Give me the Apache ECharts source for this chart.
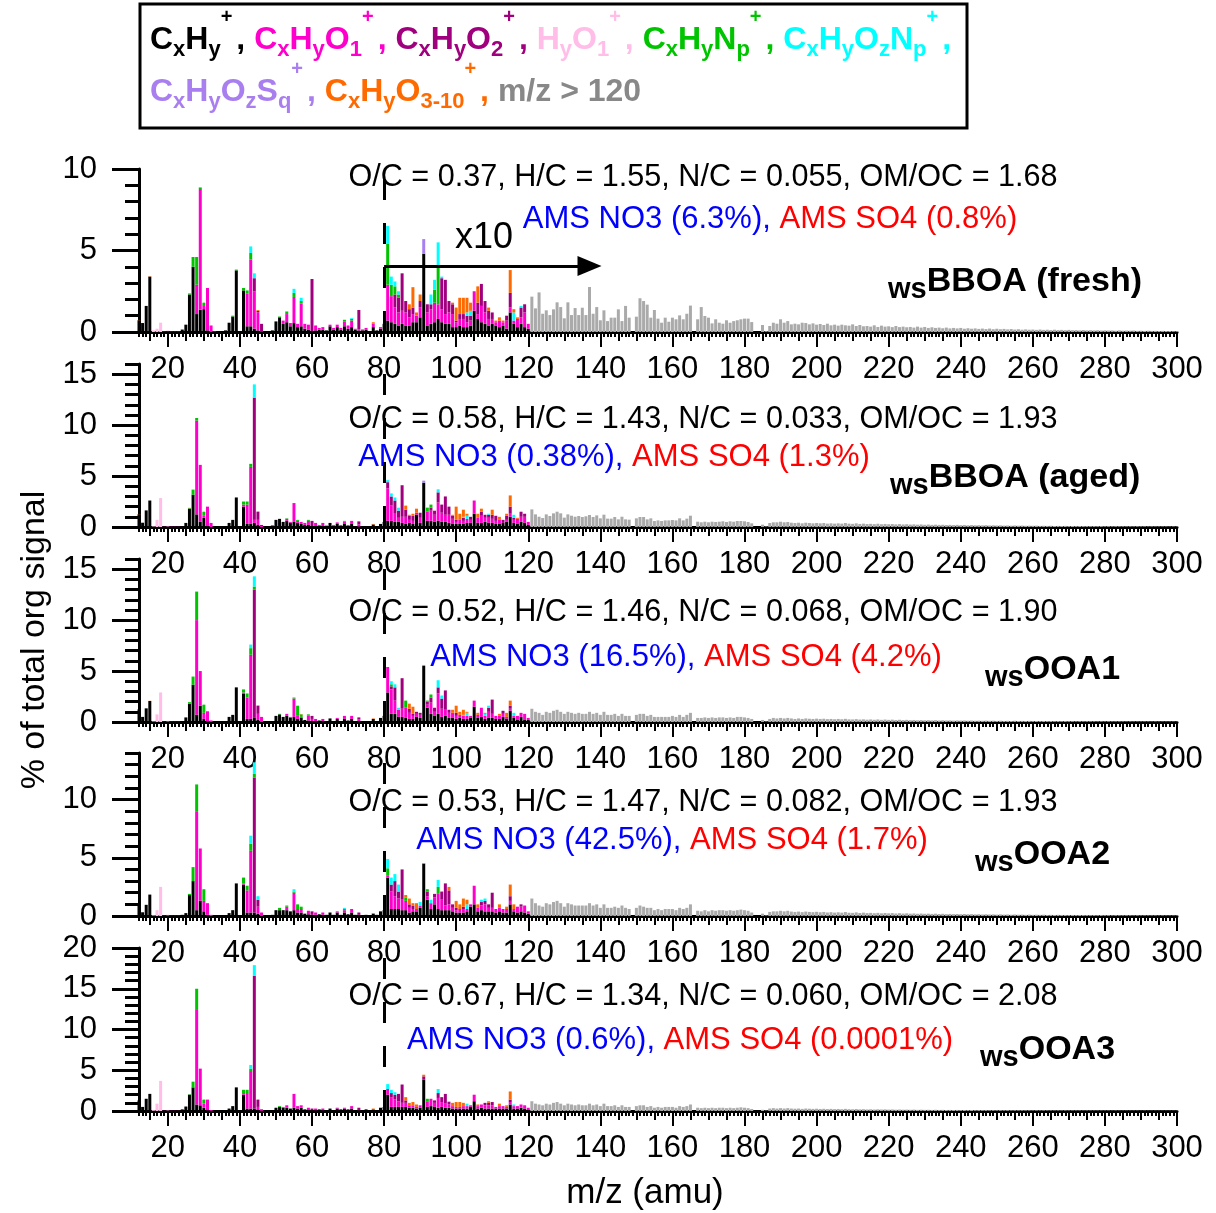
<!DOCTYPE html>
<html>
<head>
<meta charset="utf-8">
<script src="https://cdn.jsdelivr.net/npm/echarts@6/dist/echarts.min.js"></script>
<style>
  html, body { margin: 0; padding: 0; background: #ffffff; }
  #chart { width: 1216px; height: 1213px; }
</style>
</head>
<body>
<div id="chart"></div>
<script>
// ---------------------------------------------------------------------------
// Water-soluble OA factor mass spectra (HR family-coloured), m/z 12-300.
// Values are % of total organic signal. Signal at m/z >= 80 is plotted x10.
// Each family array holds [m/z, value] pairs; m/z not listed are zero.
// ---------------------------------------------------------------------------
const MZ_MIN = 12, MZ_MAX = 300;
const TAIL_START = 121;          // unit-resolution signal above m/z 120
const ZOOM_FROM = 80, ZOOM_FACTOR = 10;

const familyNames = ['CxHy+', 'CxHyO1+', 'CxHyO2+', 'HyO1+', 'CxHyNp+', 'CxHyOzNp+', 'CxHyOzSq+', 'CxHyO3-10+', 'm/z > 120'];
const familyColors = ['#000000', '#ff00cc', '#a0007e', '#ffbde8', '#00c400', '#00ffff', '#a97ff0', '#ff6a00', '#aaaaaa'];

const factorNames = ['BBOA (fresh)', 'BBOA (aged)', 'OOA1', 'OOA2', 'OOA3'];
const ratioOC   = ['0.37', '0.58', '0.52', '0.53', '0.67'];
const ratioHC   = ['1.55', '1.43', '1.46', '1.47', '1.34'];
const ratioNC   = ['0.055', '0.033', '0.068', '0.082', '0.060'];
const ratioOMOC = ['1.68', '1.93', '1.90', '1.93', '2.08'];
const amsNO3    = ['6.3%', '0.38%', '16.5%', '42.5%', '0.6%'];
const amsSO4    = ['0.8%', '1.3%', '4.2%', '1.7%', '0.0001%'];
const yMax      = [10, 16, 16, 14, 20];

// ---------------- wsBBOA (fresh) ----------------
const p1CxHy = [[12,.72],[13,.55],[14,1.6],[15,3.4],[19,.03],[20,.03],[21,.03],[22,.03],[23,.03],[24,.15],[25,.45],[26,2.3],[27,4.0],[28,1.1],[29,1.37],[30,1.4],[31,.1],[36,.1],[37,.57],[38,.95],[39,3.78],[40,.05],[41,2.55],[42,.35],[43,.35],[44,.2],[45,.1],[49,.1],[50,.65],[51,.9],[52,.5],[53,.6],[54,.35],[55,.55],[56,.3],[57,.35],[58,.2],[59,.15],[60,.05],[61,.1],[62,.15],[63,.15],[64,.1],[65,.35],[66,.15],[67,.3],[68,.15],[69,.35],[70,.2],[71,.3],[72,.15],[73,.1],[74,.1],[75,.15],[76,.05],[77,.3],[78,.1],[79,.2],
  [80,.05],[81,.07],[82,.06],[83,.05],[84,.04],[85,.05],[86,.04],[87,.04],[88,.06],[89,.06],[90,.09],[91,.48],[92,.04],[93,.05],[94,.06],[95,.08],[96,.06],[97,.05],[98,.05],[99,.03],[100,.03],[101,.04],[102,.03],[103,.03],[104,.04],[105,.13],[106,.08],[107,.06],[108,.05],[109,.04],[110,.05],[111,.04],[112,.03],[113,.04],[114,.02],[115,.12],[116,.05],[117,.03],[118,.05],[119,.03],[120,.02]];
const p1CxHyO1 = [[28,1.8],[29,7.4],[30,.25],[31,2.6],[32,.4],[33,.03],[42,2.0],[43,4.1],[44,2.3],[45,1.1],[52,.2],[53,.5],[54,.2],[55,1.6],[56,.2],[57,1.4],[58,.3],[59,.3],[61,.3],[62,.1],[63,.15],[65,.1],[66,.1],[67,.15],[68,.1],[69,.3],[70,.2],[71,.4],[72,.05],[73,.05],[75,.1],[77,.2],[79,.1],
  [81,.22],[82,.16],[83,.10],[84,.08],[85,.08],[86,.08],[87,.05],[88,.05],[89,.04],[90,.06],[92,.08],[93,.09],[94,.12],[95,.09],[96,.08],[97,.06],[98,.07],[99,.08],[100,.03],[101,.04],[102,.05],[103,.03],[104,.03],[105,.12],[106,.03],[107,.10],[108,.07],[109,.04],[110,.03],[111,.02],[112,.04],[113,.02],[114,.05],[115,.03],[116,.02],[117,.05],[118,.04],[119,.09],[120,.03]];
const p1CxHyO2 = [[19,.03],[20,.03],[21,.03],[22,.03],[23,.03],[44,.8],[45,.1],[46,.5],[60,3.2],[73,1.2],[74,.05],
  [83,.08],[84,.09],[85,.23],[86,.07],[87,.05],[88,.04],[90,.04],[92,.05],[93,.03],[96,.19],[97,.21],[98,.07],[99,.06],[100,.01],[101,.03],[102,.03],[103,.04],[104,.03],[106,.07],[107,.135],[108,.07],[109,.05],[110,.04],[114,.03],[115,.09],[118,.06],[119,.05]];
const p1HyO1 = [[16,.1],[17,.2],[18,.57],[20,.03]];
const p1CxHyNp = [[26,.05],[27,.6],[28,1.7],[29,.1],[30,.15],[38,.05],[39,.05],[41,.15],[42,.2],[43,.4],[51,.05],[53,.15],[55,.25],[57,.15],[69,.1],[71,.1],
  [81,.25],[82,.07],[83,.05],[84,.02],[94,.08],[95,.24]];
const p1CxHyOzNp = [[43,.4],[44,.3],[55,.25],[57,.2],[71,.05],
  [81,.11],[82,.05],[83,.03],[84,.02],[93,.06],[94,.06],[95,.14],[96,.01],[103,.02],[104,.03],[116,.05],[118,.01]];
const p1CxHyOzSq = [[91,.09]];
const p1CxHyO3 = [[12,.02],[15,.02],[26,.03],[45,.05],[53,.02],[77,.1],
  [87,.03],[88,.125],[89,.02],[90,.04],[99,.01],[100,.08],[101,.10],[102,.10],[103,.09],[104,.05],[106,.10],[109,.02],[111,.01],[112,.02],[113,.01],[115,.14],[116,.02],[117,.01]];
const p1Tail = [
  .217,.145,.243,.112,.133,.104,.139,.182,.153,.084, .182,.104,.147,.104,.149,.104,.276,.112,.153,.072,
  .133,.067,.088,.088,.139,.067,.160,.088,0,.094, .207,.190,.168,.088,.135,.082,.057,.088,.063,.088,
  .078,.102,.078,.112,.162,0,.078,.153,.098,.088, .053,.078,.057,.051,.072,.057,.067,.072,.078,.082,
  .082,.061,0,0,.043,.005,.037,.057,.051,.078, .057,.067,.047,.051,.047,.057,.055,.047,.053,.045,
  .049,.043,.051,.041,.045,.039,.045,.041,.039,.047, .037,.043,.035,.037,.033,.041,.031,.039,.033,.035,
  .030,.037,.030,.033,.029,.031,.027,.033,.027,.031, .025,.029,.025,.027,.023,.027,.022,.025,.022,.025,
  .020,.023,.020,.022,.019,.021,.018,.021,.017,.020, .017,.019,.016,.018,.015,.017,.014,.016,.014,.015,
  .013,.015,.013,.014,.012,.014,.012,.013,.011,.013, .011,.012,.010,.012,.010,.011,.010,.011,.009,.010,
  .009,.010,.008,.010,.008,.009,.008,.009,.007,.008, .007,.008,.007,.007,.006,.007,.006,.006,.005,.005];

// ---------------- wsBBOA (aged) ----------------
const p2CxHy = [[12,1.24],[13,.42],[14,1.63],[15,2.6],[19,.03],[20,.03],[21,.03],[22,.03],[23,.03],[24,.1],[25,.4],[26,1.8],[27,3.17],[28,1.24],[29,.5],[30,.9],[31,.1],[36,.05],[37,.4],[38,.7],[39,2.9],[40,.05],[41,2.0],[42,.3],[43,.3],[44,.4],[45,.2],[48,.1],[49,.15],[50,.7],[51,.8],[52,.5],[53,.6],[54,.4],[55,.5],[56,.4],[57,.3],[58,.2],[59,.2],[60,.1],[61,.1],[62,.15],[63,.1],[64,.1],[65,.4],[66,.15],[67,.3],[68,.15],[69,.35],[70,.15],[71,.3],[72,.1],[73,.05],[74,.1],[75,.1],[76,.05],[77,.25],[78,.1],[79,.3],
  [80,.05],[81,.06],[82,.06],[83,.05],[84,.05],[85,.04],[86,.03],[87,.04],[88,.03],[89,.12],[90,.04],[91,.435],[92,.06],[93,.06],[94,.05],[95,.06],[96,.05],[97,.05],[98,.04],[99,.03],[100,.03],[101,.03],[102,.03],[103,.04],[104,.04],[105,.13],[106,.04],[107,.04],[108,.05],[109,.04],[110,.04],[111,.03],[112,.03],[113,.04],[114,.05],[115,.10],[116,.04],[117,.03],[118,.05],[119,.04],[120,.02]];
const p2CxHyO1 = [[28,9.2],[29,5.6],[30,.2],[31,1.9],[32,.4],[41,.2],[42,1.9],[43,5.6],[44,.3],[45,.5],[46,.1],[53,.2],[54,.1],[55,1.85],[56,.2],[57,.2],[58,.2],[59,.4],[61,.3],[62,.05],[63,.3],[64,.05],[66,.05],[67,.15],[68,.05],[69,.2],[70,.05],[71,.3],[73,.2],
  [81,.32],[82,.15],[83,.08],[84,.04],[85,.06],[86,.07],[87,.03],[88,.03],[89,.02],[90,.05],[92,.09],[93,.10],[94,.07],[95,.18],[96,.09],[97,.07],[98,.08],[99,.05],[100,.02],[101,.04],[102,.03],[103,.04],[104,.03],[105,.13],[106,.05],[107,.07],[108,.04],[109,.05],[110,.04],[111,.03],[112,.04],[114,.02],[115,.03],[116,.03],[117,.05],[118,.05],[119,.06],[120,.03]];
const p2CxHyO2 = [[19,.03],[20,.03],[21,.03],[22,.03],[23,.03],[44,12.0],[45,.8],[46,.1],[60,.5],[73,.3],
  [81,.06],[82,.09],[83,.13],[84,.07],[85,.31],[86,.07],[87,.04],[88,.05],[90,.05],[93,.03],[94,.04],[95,.10],[96,.08],[97,.18],[98,.08],[99,.03],[100,.02],[102,.03],[104,.03],[107,.04],[108,.03],[109,.03],[110,.04],[111,.05],[113,.03],[114,.04],[115,.07],[116,.02],[118,.05],[119,.03]];
const p2HyO1 = [[16,.05],[17,.7],[18,2.84],[20,.05]];
const p2CxHyNp = [[26,.05],[27,.5],[28,.26],[30,.4],[41,.3],[42,.3],[43,.3],[53,.05],[56,.1],[59,.1],[69,.05],
  [92,.04],[93,.03]];
const p2CxHyOzNp = [[44,1.3],
  [81,.02],[82,.03],[83,.03],[84,.03],[95,.03],[102,.01],[103,.03],[109,.01],[116,.03]];
const p2CxHyOzSq = [[91,.02]];
const p2CxHyO3 = [[12,.02],[26,.03],[45,.03],[77,.05],
  [86,.04],[87,.01],[88,.02],[89,.04],[99,.01],[100,.13],[101,.06],[102,.07],[103,.02],[106,.04],[107,.03],[110,.05],[112,.03],[114,.02],[115,.11],[117,.01]];
const p2Tail = [
  .173,.124,.101,.088,.124,.108,.134,.150,.134,.092, .124,.111,.101,.108,.098,.105,.118,.098,.114,.085,
  .121,.082,.082,.098,.075,.101,.075,.072,0,.085, .098,.098,.075,.085,.059,.065,.059,.065,.065,.069,
  .065,.085,.065,.082,.111,0,.052,.046,.052,.046, .052,.049,.052,.056,.049,.056,.052,.059,.059,.056,
  .049,.036,0,0,.023,.005,.039,.046,.046,.052, .046,.049,.042,.039,.042,.036,.042,.039,.036,.039,
  .036,.039,.033,.036,.033,.036,.033,.039,.033,.031, .036,.030,.033,.029,.031,.028,.032,.027,.030,.027,
  .029,.026,.028,.025,.027,.024,.026,.023,.025,.022, .024,.021,.023,.021,.022,.020,.021,.019,.021,.018,
  .020,.017,.019,.017,.018,.016,.018,.015,.017,.015, .016,.014,.015,.013,.015,.013,.014,.012,.013,.012,
  .013,.011,.012,.011,.012,.010,.011,.010,.011,.009, .010,.009,.010,.009,.009,.008,.009,.008,.009,.007,
  .008,.007,.008,.007,.007,.006,.007,.006,.007,.006, .006,.005,.006,.005,.005,.005,.005,.004,.005,.004];

// ---------------- wsOOA1 ----------------
const p3CxHy = [[12,1.24],[13,.5],[14,1.34],[15,2.06],[19,.03],[20,.03],[21,.03],[22,.03],[23,.03],[24,.1],[25,.45],[26,1.8],[27,3.66],[28,.7],[29,1.6],[30,.3],[31,.05],[36,.05],[37,.5],[38,.7],[39,3.4],[40,.05],[41,2.8],[42,.3],[43,.3],[44,.4],[45,.2],[48,.05],[49,.1],[50,.6],[51,.75],[52,.5],[53,.6],[54,.4],[55,.5],[56,.3],[57,.4],[58,.2],[59,.15],[60,.1],[61,.1],[62,.15],[63,.1],[64,.1],[65,.35],[66,.1],[67,.3],[68,.1],[69,.3],[70,.15],[71,.3],[72,.1],[73,.1],[74,.05],[75,.1],[77,.3],[78,.1],[79,.4],
  [80,.06],[81,.29],[82,.08],[83,.08],[84,.05],[85,.05],[86,.04],[87,.03],[88,.03],[89,.05],[90,.04],[91,.55],[92,.14],[93,.08],[94,.06],[95,.08],[96,.05],[97,.06],[98,.04],[99,.04],[100,.03],[101,.04],[102,.03],[103,.03],[104,.04],[105,.15],[106,.04],[107,.05],[108,.03],[109,.04],[110,.04],[111,.03],[112,.03],[113,.05],[114,.03],[115,.11],[116,.04],[117,.02],[118,.05],[119,.02],[120,.02]];
const p3CxHyO1 = [[28,9.3],[29,3.4],[30,.6],[31,1.0],[32,.15],[41,.1],[42,2.1],[43,6.3],[45,.6],[46,.5],[53,.2],[54,.1],[55,1.8],[56,.3],[57,.1],[59,.5],[60,.2],[61,.2],[63,.2],[67,.1],[69,.3],[71,.3],[73,.15],
  [81,.25],[82,.24],[83,.13],[84,.07],[85,.08],[86,.10],[87,.06],[88,.03],[89,.03],[90,.03],[92,.03],[93,.11],[94,.04],[95,.20],[96,.08],[97,.06],[98,.05],[99,.05],[100,.03],[101,.03],[102,.03],[103,.03],[104,.02],[105,.06],[106,.03],[107,.09],[108,.03],[109,.06],[110,.04],[111,.03],[112,.03],[113,.03],[114,.02],[115,.02],[116,.02],[117,.04],[118,.04],[119,.06],[120,.02]];
const p3CxHyO2 = [[19,.03],[20,.03],[21,.03],[22,.03],[23,.03],[44,12.6],[45,.8],[60,.3],[73,.2],
  [82,.03],[83,.13],[85,.30],[87,.04],[88,.02],[89,.02],[90,.02],[92,.03],[93,.05],[94,.04],[95,.06],[96,.10],[97,.19],[98,.03],[100,.03],[109,.04],[110,.14],[113,.03],[115,.03]];
const p3HyO1 = [[16,.05],[17,.75],[18,2.9],[20,.05]];
const p3CxHyNp = [[26,.15],[27,.8],[28,2.8],[30,.8],[41,.3],[42,.4],[43,.65],[44,.3],[51,.05],[55,.1],[56,1.0],[57,.25],[59,.1],
  [82,.02],[86,.07],[92,.01],[93,.03]];
const p3CxHyOzNp = [[43,.35],[44,1.0],
  [82,.03],[83,.03],[84,.02],[95,.07],[96,.03],[102,.01],[103,.03],[108,.02],[109,.02],[116,.03]];
const p3CxHyOzSq = [[91,.01]];
const p3CxHyO3 = [[15,.02],[45,.03],[57,.03],[77,.05],
  [87,.05],[88,.07],[99,.03],[100,.07],[101,.03],[102,.05],[103,.01],[106,.02],[108,.01],[112,.02],[114,.04],[115,.05]];
const p3Tail = [
  .13,.10,.09,.07,.10,.09,.11,.12,.10,.08, .10,.09,.08,.09,.08,.08,.10,.08,.09,.07,
  .10,.07,.07,.08,.06,.08,.06,.06,0,.07, .08,.08,.06,.07,.05,.05,.05,.05,.05,.06,
  .05,.07,.05,.07,.09,0,.04,.04,.045,.04, .045,.04,.045,.045,.04,.045,.04,.05,.05,.045,
  .04,.03,0,0,.02,.005,.03,.04,.035,.04, .035,.04,.035,.03,.035,.03,.035,.032,.03,.033,
  .03,.032,.028,.03,.027,.03,.027,.031,.026,.025, .028,.024,.026,.023,.025,.022,.025,.021,.024,.021,
  .023,.02,.022,.019,.021,.018,.02,.017,.019,.017, .018,.016,.018,.015,.017,.015,.016,.014,.016,.014,
  .015,.013,.015,.013,.014,.012,.014,.012,.013,.011, .013,.011,.012,.01,.012,.01,.011,.01,.011,.009,
  .01,.009,.01,.009,.01,.008,.009,.008,.009,.008, .008,.007,.008,.007,.008,.007,.007,.006,.007,.006,
  .007,.006,.006,.006,.006,.005,.006,.005,.005,.005, .005,.005,.004,.005,.004,.004,.004,.004,.004,.003];

// ---------------- wsOOA2 ----------------
const p4CxHy = [[12,1.0],[13,.32],[14,.96],[15,1.84],[19,.03],[20,.03],[21,.03],[22,.03],[23,.03],[24,.1],[25,.25],[26,1.8],[27,3.0],[28,.5],[29,1.3],[30,.4],[31,.1],[36,.05],[37,.25],[38,.5],[39,2.8],[40,.03],[41,2.7],[42,.3],[43,.3],[44,.3],[45,.2],[48,.05],[49,.1],[50,.5],[51,.5],[52,.5],[53,.5],[54,.4],[55,.5],[56,.3],[57,.3],[58,.2],[59,.15],[60,.1],[61,.1],[62,.15],[63,.1],[64,.1],[65,.3],[66,.1],[67,.3],[68,.1],[69,.3],[70,.15],[71,.3],[72,.1],[73,.1],[74,.05],[75,.1],[77,.2],[78,.1],[79,.4],
  [80,.05],[81,.33],[82,.06],[83,.06],[84,.06],[85,.05],[86,.05],[87,.03],[88,.04],[89,.04],[90,.07],[91,.45],[92,.14],[93,.06],[94,.10],[95,.06],[96,.05],[97,.05],[98,.05],[99,.04],[100,.03],[101,.03],[102,.03],[103,.04],[104,.08],[105,.10],[106,.04],[107,.05],[108,.04],[109,.04],[110,.04],[111,.03],[112,.04],[113,.03],[114,.03],[115,.10],[116,.04],[117,.03],[118,.04],[119,.03],[120,.02]];
const p4CxHyO1 = [[28,8.5],[29,4.5],[30,.9],[31,1.0],[32,.1],[41,.1],[42,1.9],[43,5.3],[45,.6],[46,.3],[53,.3],[55,1.5],[56,.3],[57,.3],[59,.3],[61,.2],[63,.2],[67,.1],[69,.2],[71,.3],
  [81,.02],[82,.15],[83,.11],[84,.09],[85,.09],[86,.08],[87,.04],[88,.02],[89,.02],[90,.02],[92,.03],[93,.05],[94,.06],[95,.13],[96,.09],[97,.04],[98,.05],[99,.03],[100,.02],[101,.03],[102,.03],[103,.02],[104,.02],[105,.16],[106,.03],[107,.04],[108,.06],[109,.03],[110,.03],[111,.03],[112,.03],[113,.03],[114,.03],[115,.03],[116,.02],[117,.05],[118,.04],[119,.06],[120,.02]];
const p4CxHyO2 = [[19,.03],[20,.03],[21,.03],[22,.03],[23,.03],[44,11.6],[45,.6],[60,.3],[73,.2],
  [82,.06],[83,.13],[84,.06],[85,.26],[87,.03],[88,.03],[92,.04],[94,.03],[96,.07],[97,.19],[98,.12],[99,.03],[100,.02],[102,.02],[107,.03],[108,.03],[109,.03],[110,.13],[115,.04],[118,.02]];
const p4HyO1 = [[16,.05],[17,.5],[18,2.5],[20,.05]];
const p4CxHyNp = [[26,.1],[27,1.2],[28,2.3],[30,1.0],[41,.5],[42,.4],[43,.6],[44,.3],[51,.2],[53,.1],[55,.1],[56,.4],[57,.2],[69,.1],
  [81,.06],[86,.03],[92,.02],[95,.06]];
const p4CxHyOzNp = [[43,.7],[44,1.0],[45,.3],[55,.2],[69,.1],
  [81,.08],[82,.06],[83,.06],[84,.06],[90,.03],[93,.03],[95,.06],[103,.04],[107,.02],[108,.02]];
const p4CxHyOzSq = [[91,.005]];
const p4CxHyO3 = [[77,.05],
  [86,.02],[87,.05],[88,.02],[89,.05],[98,.03],[100,.06],[101,.04],[102,.07],[103,.04],[106,.03],[112,.03],[114,.02],[115,.10],[116,.04]];
const p4Tail = [
  .15,.11,.09,.08,.11,.10,.12,.13,.11,.08, .11,.10,.09,.09,.09,.09,.11,.09,.10,.07,
  .10,.07,.07,.08,.07,.09,.07,.06,0,.07, .09,.08,.07,.07,.05,.06,.05,.06,.06,.06,
  .05,.07,.06,.07,.10,0,.045,.04,.05,.04, .05,.045,.05,.05,.045,.05,.045,.05,.055,.05,
  .045,.03,0,0,.02,.005,.035,.04,.04,.045, .04,.045,.038,.035,.038,.033,.038,.035,.033,.036,
  .032,.035,.03,.033,.029,.032,.029,.034,.028,.027, .031,.026,.029,.025,.027,.024,.027,.023,.026,.023,
  .025,.022,.024,.021,.023,.02,.022,.019,.021,.019, .02,.018,.02,.017,.019,.016,.018,.016,.017,.015,
  .017,.015,.016,.014,.015,.013,.015,.013,.014,.012, .014,.012,.013,.011,.013,.011,.012,.01,.012,.01,
  .011,.01,.011,.009,.01,.009,.01,.009,.009,.008, .009,.008,.009,.008,.008,.007,.008,.007,.008,.007,
  .007,.006,.007,.006,.006,.006,.006,.005,.006,.005, .005,.005,.005,.005,.004,.005,.004,.004,.004,.004];

// ---------------- wsOOA3 ----------------
const p5CxHy = [[12,1.3],[13,.5],[14,1.5],[15,2.1],[19,.05],[20,.05],[21,.05],[22,.05],[23,.05],[24,.2],[25,.55],[26,2.0],[27,2.9],[28,.8],[29,.7],[30,.4],[31,.1],[36,.05],[37,.3],[38,.6],[39,2.9],[40,.05],[41,2.0],[42,.3],[43,.3],[44,.3],[45,.2],[47,.1],[48,.1],[49,.1],[50,.4],[51,.5],[52,.4],[53,.4],[54,.3],[55,.4],[56,.3],[57,.4],[58,.2],[59,.2],[60,.1],[61,.1],[62,.2],[63,.1],[64,.1],[65,.3],[66,.1],[67,.3],[68,.2],[69,.3],[70,.2],[71,.3],[72,.1],[73,.1],[74,.1],[75,.2],[76,.1],[77,.2],[78,.1],[79,.4],
  [80,.05],[81,.20],[82,.05],[83,.05],[84,.05],[85,.05],[86,.05],[87,.04],[88,.04],[89,.03],[90,.04],[91,.385],[92,.05],[93,.06],[94,.05],[95,.04],[96,.05],[97,.04],[98,.04],[99,.03],[100,.03],[101,.03],[102,.03],[103,.03],[104,.05],[105,.12],[106,.03],[107,.04],[108,.03],[109,.03],[110,.03],[111,.03],[112,.03],[113,.03],[114,.03],[115,.08],[116,.03],[117,.03],[118,.04],[119,.03],[120,.02]];
const p5CxHyO1 = [[28,11.7],[29,4.5],[30,.5],[31,1.3],[32,.1],[41,.2],[42,1.9],[43,4.6],[45,.3],[46,.1],[52,.1],[53,.3],[55,1.7],[56,.3],[57,.3],[59,.2],[61,.2],[63,.2],[67,.1],[69,.1],[71,.3],
  [81,.07],[82,.12],[83,.09],[84,.07],[85,.05],[86,.05],[87,.03],[88,.03],[89,.02],[90,.03],[92,.07],[93,.09],[94,.05],[95,.12],[96,.06],[97,.05],[98,.04],[99,.03],[100,.02],[101,.02],[102,.03],[103,.03],[104,.02],[105,.08],[106,.03],[107,.04],[108,.04],[109,.04],[110,.04],[111,.02],[112,.03],[113,.03],[114,.02],[115,.03],[116,.03],[117,.03],[118,.04],[119,.04],[120,.02]];
const p5CxHyO2 = [[19,.03],[20,.03],[21,.03],[22,.03],[23,.03],[44,16.3],[45,.9],[46,.1],[60,.2],[73,.3],
  [82,.05],[83,.06],[84,.09],[85,.225],[86,.03],[91,.04],[94,.03],[95,.06],[96,.06],[97,.12],[98,.03],[108,.03],[109,.03],[110,.04],[115,.03]];
const p5HyO1 = [[16,.1],[17,.9],[18,3.7],[20,.05]];
const p5CxHyNp = [[26,.05],[27,.7],[28,2.5],[30,.5],[41,.4],[42,.4],[43,.3],[51,.1],
  [92,.03]];
const p5CxHyOzNp = [[43,.45],[44,1.3],
  [81,.06],[82,.04],[83,.03],[95,.05],[98,.01],[103,.03],[116,.02]];
const p5CxHyOzSq = [];
const p5CxHyO3 = [[77,.1],
  [86,.04],[87,.03],[88,.04],[89,.03],[91,.02],[99,.04],[100,.06],[101,.06],[102,.04],[106,.02],[109,.02],[112,.03],[114,.02],[115,.10]];
const p5Tail = [
  .12,.09,.08,.07,.09,.08,.10,.11,.09,.07, .09,.08,.07,.08,.07,.07,.09,.07,.08,.06,
  .09,.06,.06,.07,.05,.07,.05,.05,0,.06, .07,.07,.05,.06,.04,.05,.04,.05,.05,.05,
  .04,.06,.05,.06,.08,0,.04,.035,.04,.035, .04,.035,.04,.04,.035,.04,.035,.04,.045,.04,
  .035,.025,0,0,.015,.005,.03,.035,.03,.035, .03,.035,.03,.028,.03,.026,.03,.028,.026,.028,
  .025,.027,.024,.026,.023,.025,.022,.026,.022,.021, .024,.02,.022,.019,.021,.018,.021,.018,.02,.017,
  .019,.016,.018,.016,.017,.015,.017,.014,.016,.014, .015,.013,.015,.013,.014,.012,.013,.012,.013,.011,
  .012,.011,.012,.01,.011,.01,.011,.009,.01,.009, .01,.009,.01,.008,.009,.008,.009,.008,.008,.007,
  .008,.007,.008,.007,.007,.006,.007,.006,.007,.006, .006,.006,.006,.005,.006,.005,.005,.005,.005,.005,
  .005,.004,.005,.004,.004,.004,.004,.004,.004,.003, .004,.003,.003,.003,.003,.003,.003,.003,.003,.003];

const panels = [
  { fam: [p1CxHy, p1CxHyO1, p1CxHyO2, p1HyO1, p1CxHyNp, p1CxHyOzNp, p1CxHyOzSq, p1CxHyO3], tail: p1Tail },
  { fam: [p2CxHy, p2CxHyO1, p2CxHyO2, p2HyO1, p2CxHyNp, p2CxHyOzNp, p2CxHyOzSq, p2CxHyO3], tail: p2Tail },
  { fam: [p3CxHy, p3CxHyO1, p3CxHyO2, p3HyO1, p3CxHyNp, p3CxHyOzNp, p3CxHyOzSq, p3CxHyO3], tail: p3Tail },
  { fam: [p4CxHy, p4CxHyO1, p4CxHyO2, p4HyO1, p4CxHyNp, p4CxHyOzNp, p4CxHyOzSq, p4CxHyO3], tail: p4Tail },
  { fam: [p5CxHy, p5CxHyO1, p5CxHyO2, p5HyO1, p5CxHyNp, p5CxHyOzNp, p5CxHyOzSq, p5CxHyO3], tail: p5Tail }
];

// ---------------------------------------------------------------------------
// Layout
// ---------------------------------------------------------------------------
const FONT = '"Liberation Sans", Arial, Helvetica, sans-serif';
const GRID_LEFT = 139, GRID_WIDTH = 1038, GRID_HEIGHT = 163;
const gridTops = [169, 364, 559, 753, 948];
const ratioY = [178, 420, 613, 803, 997];
const amsX = [770, 614, 686, 672, 680];
const amsY = [219, 457, 657, 840, 1040];
const nameX = [888, 890, 985, 975, 980];
const nameY = [282, 478, 670, 855, 1050];

const mzCats = [];
for (let m = MZ_MIN; m <= MZ_MAX; m++) mzCats.push(String(m));

function plotted(mz, v) { return mz >= ZOOM_FROM ? v * ZOOM_FACTOR : v; }
function densify(pairs) {
  const out = new Array(mzCats.length).fill(0);
  pairs.forEach(([mz, v]) => { out[mz - MZ_MIN] = plotted(mz, v); });
  return out;
}
function densifyTail(vals) {
  const out = new Array(mzCats.length).fill(0);
  vals.forEach((v, i) => { const mz = TAIL_START + i; out[mz - MZ_MIN] = plotted(mz, v); });
  return out;
}
function range(a, b) { const r = []; for (let v = a; v <= b; v++) r.push(v); return r; }

const grids = [], xAxes = [], yAxes = [], series = [];

panels.forEach((p, i) => {
  grids.push({ left: GRID_LEFT, top: gridTops[i], width: GRID_WIDTH, height: GRID_HEIGHT, containLabel: false, outerBoundsMode: 'none' });

  const common = { type: 'category', data: mzCats, gridIndex: i, boundaryGap: false, position: 'bottom' };
  // main axis: line, labels every 20, long ticks every 20
  xAxes.push(Object.assign({}, common, {
    axisLine: { show: true, onZero: false, lineStyle: { color: '#000', width: 3 } },
    axisTick: { show: true, length: 15, lineStyle: { color: '#000', width: 2 },
      interval: (idx) => (idx + MZ_MIN) % 20 === 0 },
    axisLabel: { show: true, fontSize: 31, fontFamily: FONT, color: '#000', margin: 22,
      interval: (idx) => (idx + MZ_MIN) % 20 === 0 },
    splitLine: { show: false }
  }));
  // ticks every 5
  xAxes.push(Object.assign({}, common, {
    axisLine: { show: false }, axisLabel: { show: false }, splitLine: { show: false },
    axisTick: { show: true, length: 9, lineStyle: { color: '#000', width: 2 },
      interval: (idx) => (idx + MZ_MIN) % 5 === 0 && (idx + MZ_MIN) % 20 !== 0 }
  }));
  // ticks every 1
  xAxes.push(Object.assign({}, common, {
    axisLine: { show: false }, axisLabel: { show: false }, splitLine: { show: false },
    axisTick: { show: true, length: 5, lineStyle: { color: '#000', width: 2 },
      interval: (idx) => (idx + MZ_MIN) % 5 !== 0 }
  }));

  const major = range(0, yMax[i]).filter(v => v % 5 === 0);
  const minor = range(0, yMax[i]).filter(v => v % 5 !== 0);
  yAxes.push({
    type: 'value', gridIndex: i, min: 0, max: yMax[i], position: 'left',
    axisLine: { show: true, lineStyle: { color: '#000', width: 3 } },
    axisTick: { show: true, length: 27, customValues: major, lineStyle: { color: '#000', width: 3 } },
    axisLabel: { show: true, customValues: major, fontSize: 31, fontFamily: FONT, color: '#000', margin: 42,
      padding: [0, 0, 9, 0] },
    splitLine: { show: false }
  });
  yAxes.push({
    type: 'value', gridIndex: i, min: 0, max: yMax[i], position: 'left',
    axisLine: { show: false },
    axisTick: { show: true, length: 14, customValues: minor, lineStyle: { color: '#000', width: 3 } },
    axisLabel: { show: false }, splitLine: { show: false }
  });

  p.fam.forEach((pairs, f) => {
    series.push({
      type: 'bar', name: familyNames[f], xAxisIndex: i * 3, yAxisIndex: i * 2, stack: 'p' + i,
      data: densify(pairs), barWidth: 3, silent: true,
      itemStyle: { color: familyColors[f] }
    });
  });

  const markData = [
    { xAxis: String(ZOOM_FROM), lineStyle: { type: [21, 23], width: 3, color: '#000' } }
  ];
  if (i === 0) {
    markData.push([
      { coord: [String(ZOOM_FROM), 4.05], symbol: 'none', lineStyle: { type: 'solid', width: 3, color: '#000' } },
      { coord: ['137', 4.05], symbol: 'triangle', symbolSize: [20, 24] }
    ]);
  }
  series.push({
    type: 'bar', name: familyNames[8], xAxisIndex: i * 3, yAxisIndex: i * 2, stack: 'p' + i,
    data: densifyTail(p.tail), barWidth: 3, silent: true, z: 3,
    itemStyle: { color: familyColors[8] },
    markLine: { silent: true, symbol: 'none', label: { show: false }, animation: false, data: markData }
  });
});

// ---------------------------------------------------------------------------
// Text annotations
// ---------------------------------------------------------------------------
const graphics = [];

// family key box
graphics.push({ type: 'rect', shape: { x: 140, y: 4, width: 827, height: 124 },
  style: { fill: '#ffffff', stroke: '#000000', lineWidth: 3 }, z: 10 });

// base / subscript / superscript / separator styles for each family colour
const KEY_LINE = 70;
const keyRich = {};
familyColors.forEach((c, k) => {
  const col = k === 8 ? '#888888' : c;
  keyRich['b' + k] = { fill: col, fontSize: 32, fontWeight: 'bold', fontFamily: FONT, lineHeight: KEY_LINE, verticalAlign: 'middle' };
  keyRich['c' + k] = { fill: col, fontSize: 32, fontWeight: 'bold', fontFamily: FONT, lineHeight: KEY_LINE, verticalAlign: 'middle', padding: [0, 0, 0, 4] };
  keyRich['s' + k] = { fill: col, fontSize: 22, fontWeight: 'bold', fontFamily: FONT, lineHeight: KEY_LINE, verticalAlign: 'bottom', padding: [0, 0, 14, 0] };
  keyRich['p' + k] = { fill: col, fontSize: 20, fontWeight: 'bold', fontFamily: FONT, lineHeight: KEY_LINE, verticalAlign: 'top', padding: [2, 0, 0, 0] };
});
// formula pieces: [text, 'b'ase | 's'ubscript | 'p' superscript]
const keyFormulas = [
  [['C','b'],['x','s'],['H','b'],['y','s'],['+','p']],
  [['C','b'],['x','s'],['H','b'],['y','s'],['O','b'],['1','s'],['+','p']],
  [['C','b'],['x','s'],['H','b'],['y','s'],['O','b'],['2','s'],['+','p']],
  [['H','b'],['y','s'],['O','b'],['1','s'],['+','p']],
  [['C','b'],['x','s'],['H','b'],['y','s'],['N','b'],['p','s'],['+','p']],
  [['C','b'],['x','s'],['H','b'],['y','s'],['O','b'],['z','s'],['N','b'],['p','s'],['+','p']],
  [['C','b'],['x','s'],['H','b'],['y','s'],['O','b'],['z','s'],['S','b'],['q','s'],['+','p']],
  [['C','b'],['x','s'],['H','b'],['y','s'],['O','b'],['3-10','s'],['+','p']],
  [['m/z > 120','b']]
];
const keyLines = ['', ''];
keyFormulas.forEach((parts, k) => {
  const line = k <= 5 ? 0 : 1;
  parts.forEach(([t, kind]) => { keyLines[line] += '{' + kind + k + '|' + t + '}'; });
  if (k < 8) keyLines[line] += '{c' + k + '|, }';
});
[40, 92].forEach((y, l) => {
  graphics.push({ type: 'text', x: 150, y: y, z: 11,
    style: { text: keyLines[l], rich: keyRich, align: 'left', verticalAlign: 'middle', textAlign: 'left', textVerticalAlign: 'middle' } });
});

panels.forEach((p, i) => {
  graphics.push({ type: 'text', x: 703, y: ratioY[i], z: 11,
    style: { text: `O/C = ${ratioOC[i]}, H/C = ${ratioHC[i]}, N/C = ${ratioNC[i]}, OM/OC = ${ratioOMOC[i]}`,
      fill: '#000', fontSize: 30.6, fontFamily: FONT, align: 'center', verticalAlign: 'middle', textAlign: 'center', textVerticalAlign: 'middle' } });
  graphics.push({ type: 'text', x: amsX[i], y: amsY[i], z: 11,
    style: { text: `{n|AMS NO3 (${amsNO3[i]}), }{s|AMS SO4 (${amsSO4[i]})}`,
      rich: { n: { fill: '#0000ff', fontSize: 31, fontFamily: FONT }, s: { fill: '#ff0000', fontSize: 31, fontFamily: FONT } },
      align: 'center', verticalAlign: 'middle', textAlign: 'center', textVerticalAlign: 'middle' } });
  graphics.push({ type: 'text', x: nameX[i], y: nameY[i], z: 11,
    style: { text: `{w|ws}{n|${factorNames[i]}}`,
      rich: { w: { fill: '#000', fontSize: 29, fontWeight: 'bold', fontFamily: FONT, lineHeight: 44, verticalAlign: 'bottom' },
              n: { fill: '#000', fontSize: 34, fontWeight: 'bold', fontFamily: FONT, lineHeight: 44, verticalAlign: 'middle' } },
      align: 'left', verticalAlign: 'middle', textAlign: 'left', textVerticalAlign: 'middle' } });
});

// x10 note for the upper mass range
graphics.push({ type: 'text', x: 455, y: 238, z: 11,
  style: { text: 'x' + ZOOM_FACTOR, fill: '#000', fontSize: 36, fontFamily: FONT, align: 'left', verticalAlign: 'middle', textAlign: 'left', textVerticalAlign: 'middle' } });

// axis titles
graphics.push({ type: 'text', x: 35, y: 640, rotation: Math.PI / 2, z: 11,
  style: { text: '% of total org signal', fill: '#000', fontSize: 34, fontFamily: FONT, align: 'center', verticalAlign: 'middle', textAlign: 'center', textVerticalAlign: 'middle' } });
graphics.push({ type: 'text', x: 645, y: 1193, z: 11,
  style: { text: 'm/z (amu)', fill: '#000', fontSize: 35, fontFamily: FONT, align: 'center', verticalAlign: 'middle', textAlign: 'center', textVerticalAlign: 'middle' } });

const chart = echarts.init(document.getElementById('chart'), null, { renderer: 'canvas' });
chart.setOption({
  animation: false,
  backgroundColor: '#ffffff',
  grid: grids,
  xAxis: xAxes,
  yAxis: yAxes,
  series: series,
  graphic: { elements: graphics }
});
</script>
</body>
</html>
